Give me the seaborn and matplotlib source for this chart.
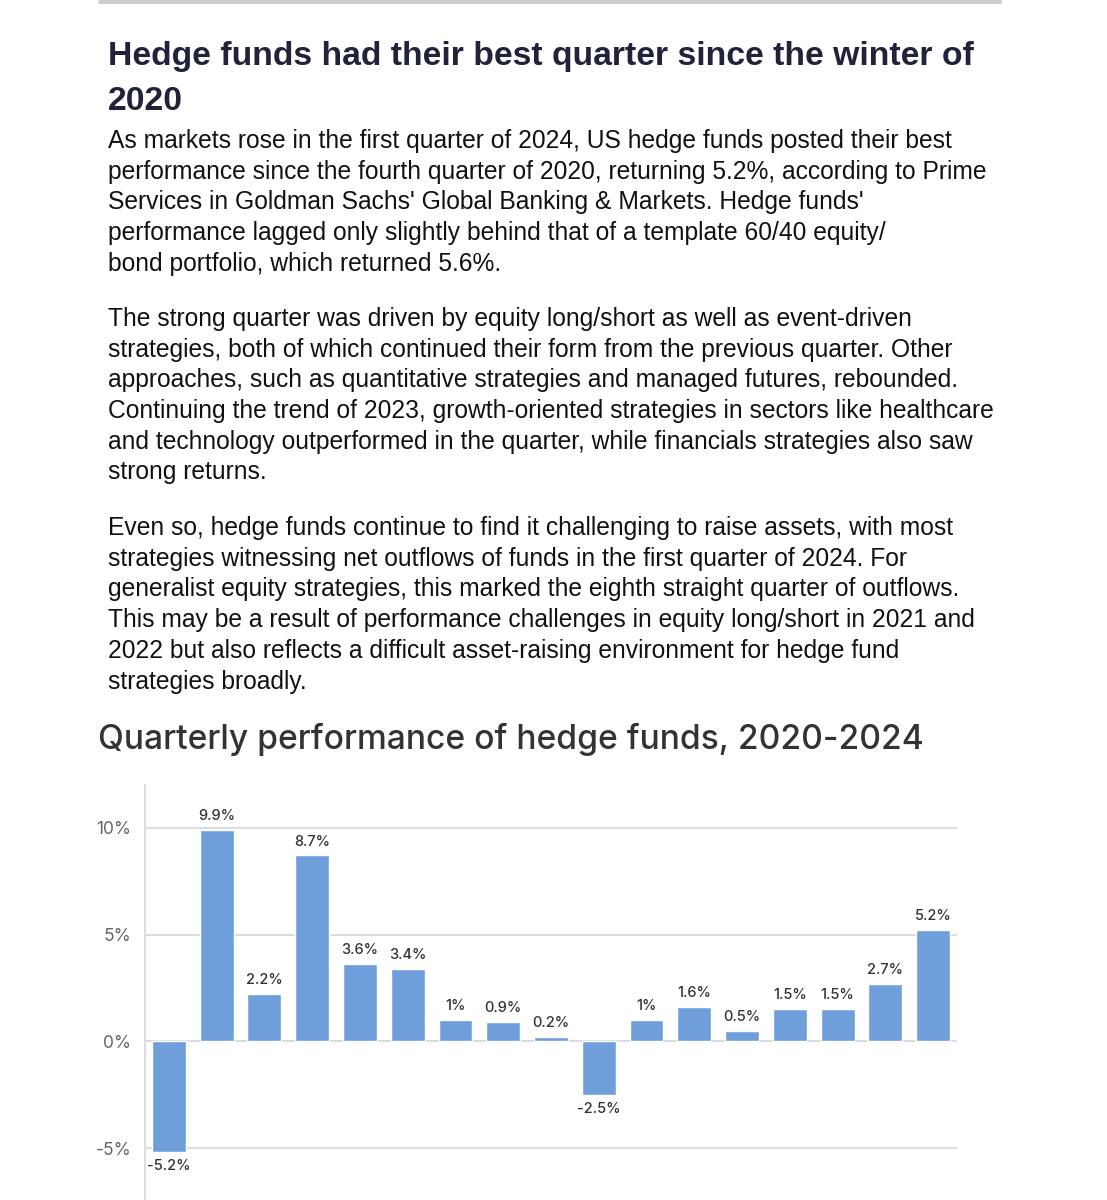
import numpy as np
import pandas as pd
import seaborn as sns
import matplotlib
matplotlib.use("Agg")
import matplotlib.pyplot as plt

# ---------------- data ----------------
quarters = ["Q1 2020", "Q2 2020", "Q3 2020", "Q4 2020",
            "Q1 2021", "Q2 2021", "Q3 2021", "Q4 2021",
            "Q1 2022", "Q2 2022", "Q3 2022", "Q4 2022",
            "Q1 2023", "Q2 2023", "Q3 2023", "Q4 2023",
            "Q1 2024"]
returns = [-5.2, 9.9, 2.2, 8.7, 3.6, 3.4, 1.0, 0.9, 0.2, -2.5,
           1.0, 1.6, 0.5, 1.5, 1.5, 2.7, 5.2]
bar_labels = ["-5.2%", "9.9%", "2.2%", "8.7%", "3.6%", "3.4%", "1%", "0.9%", "0.2%", "-2.5%",
              "1%", "1.6%", "0.5%", "1.5%", "1.5%", "2.7%", "5.2%"]
y_ticks = [-5, 0, 5, 10]
y_tick_labels = ["-5%", "0%", "5%", "10%"]

headline = ["Hedge funds had their best quarter since the winter of", "2020"]
para1 = ["As markets rose in the first quarter of 2024, US hedge funds posted their best",
         "performance since the fourth quarter of 2020, returning 5.2%, according to Prime",
         "Services in Goldman Sachs' Global Banking & Markets. Hedge funds'",
         "performance lagged only slightly behind that of a template 60/40 equity/",
         "bond portfolio, which returned 5.6%."]
para2 = ["The strong quarter was driven by equity long/short as well as event-driven",
         "strategies, both of which continued their form from the previous quarter. Other",
         "approaches, such as quantitative strategies and managed futures, rebounded.",
         "Continuing the trend of 2023, growth-oriented strategies in sectors like healthcare",
         "and technology outperformed in the quarter, while financials strategies also saw",
         "strong returns."]
para3 = ["Even so, hedge funds continue to find it challenging to raise assets, with most",
         "strategies witnessing net outflows of funds in the first quarter of 2024. For",
         "generalist equity strategies, this marked the eighth straight quarter of outflows.",
         "This may be a result of performance challenges in equity long/short in 2021 and",
         "2022 but also reflects a difficult asset-raising environment for hedge fund",
         "strategies broadly."]
chart_title = "Quarterly performance of hedge funds, 2020-2024"

df = pd.DataFrame({"Quarter": quarters, "Return": returns})

W, H = 1107, 1200
sns.set_style("white")
fig = plt.figure(figsize=(W / 100, H / 100), dpi=100)


def fx(x):
    return x / W


def fy(y):
    return 1 - y / H


# top rule
fig.add_artist(plt.Line2D([fx(100), fx(1000)], [fy(1.5), fy(1.5)], color="#cccccc", lw=3))

# headline
for i, line in enumerate(headline):
    fig.text(fx(108), fy(56 + i * 45), line, fontsize=24.3, fontweight="bold",
             color="#20233a", family="Liberation Sans", va="center")

# paragraphs
for start, lines in [(141, para1), (319, para2), (528, para3)]:
    for i, line in enumerate(lines):
        fig.text(fx(108), fy(start + i * 30.7), line, fontsize=17.75,
                 color="#111111", family="Liberation Sans", va="center")

fig.text(fx(98), fy(739), chart_title, fontsize=24.2, color="#333333",
         family="Inter", fontweight="medium", va="center")

# ---------------- chart ----------------
ax = fig.add_axes([fx(145), 0, fx(957) - fx(145), (1200 - 785) / H])
sns.barplot(data=df, x="Quarter", y="Return", color="#6f9fdb", width=0.71,
            saturation=1, ax=ax)
ax.set_xlim(-0.5, len(quarters) - 0.5)
ax.set_ylim(-7.43, 12)
ax.set_yticks(y_ticks)
ax.set_yticklabels(y_tick_labels, fontsize=12.5, color="#666666", family="Inter")
ax.set_xticks([])
ax.set_xlabel("")
ax.set_ylabel("")
ax.grid(axis="y", color="#dddddd", lw=1.5)
ax.set_axisbelow(True)
for s in ["top", "right", "bottom"]:
    ax.spines[s].set_visible(False)
ax.spines["left"].set_color("#dddddd")
ax.spines["left"].set_linewidth(1.5)
ax.tick_params(axis="y", length=6, color="#dddddd", pad=4)

for i, (v, lab) in enumerate(zip(returns, bar_labels)):
    if v >= 0:
        ax.annotate(lab, (i, v), xytext=(0, 5), textcoords="offset points",
                    ha="center", va="bottom", fontsize=10.5, color="#333333",
                    family="Inter", fontweight="medium")
    else:
        ax.annotate(lab, (i, v), xytext=(0, -5), textcoords="offset points",
                    ha="center", va="top", fontsize=10.5, color="#333333",
                    family="Inter", fontweight="medium")

fig.savefig("out.png", dpi=100)
